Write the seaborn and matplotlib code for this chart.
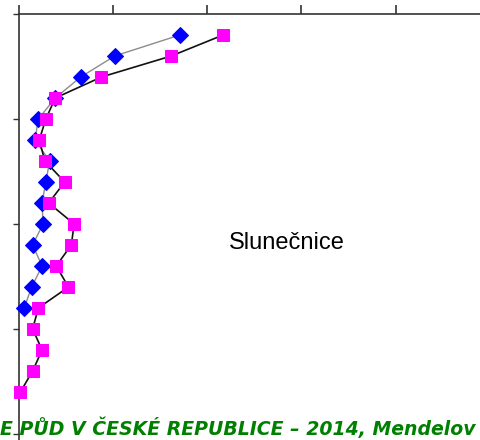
import matplotlib
matplotlib.use("Agg")
import matplotlib.pyplot as plt
import seaborn as sns
import pandas as pd

# Depth steps
depth_blue = list(range(1, 15))
depth_magenta = list(range(1, 19))

# Values
blue_values = [17.1, 10.2, 6.6, 3.9, 2.1, 1.75, 3.3, 2.9, 2.5, 2.6, 1.5, 2.5, 1.4, 0.6]
magenta_values = [21.7, 16.2, 8.8, 3.9, 2.9, 2.2, 2.8, 4.9, 3.2, 5.9, 5.6, 4.0, 5.3, 2.1,
                  1.5, 2.5, 1.5, 0.2]

x_ticks = [0, 10, 20, 30, 40]
y_ticks = [0, 5, 10, 15, 20]

label_text = "Slunečnice"
footer_text = "E PŮD V ČESKÉ REPUBLICE – 2014, Mendelov"

W, H = 481, 440
sns.set_style("white")
fig = plt.figure(figsize=(W / 100, H / 100), dpi=100)
left_px, top_px = 18.5, 14
ax = fig.add_axes([left_px / W, 0, 1 - left_px / W, 1 - top_px / H])

df_b = pd.DataFrame({"x": blue_values, "depth": depth_blue})
df_m = pd.DataFrame({"x": magenta_values, "depth": depth_magenta})

sns.lineplot(data=df_b, x="x", y="depth", sort=False, estimator=None, ax=ax,
             color="#8c8c8c", linewidth=1.0, marker="D", markersize=8.5,
             markerfacecolor="#0000ff", markeredgecolor="#0000ff", zorder=3,
             clip_on=False)
sns.lineplot(data=df_m, x="x", y="depth", sort=False, estimator=None, ax=ax,
             color="#111111", linewidth=1.2, marker="s", markersize=9,
             markerfacecolor="#ff00ff", markeredgecolor="#ff00ff", zorder=4,
             clip_on=False)

x_right = (W - left_px) / 9.43
y_bottom = (H - top_px) / 21.0
ax.set_xlim(0, x_right)
ax.set_ylim(y_bottom, 0)
ax.set_xticks(x_ticks)
ax.set_yticks(y_ticks)
ax.set_xticklabels([])
ax.set_yticklabels([])
ax.set_xlabel("")
ax.set_ylabel("")
ax.xaxis.tick_top()
for s in ["right", "bottom"]:
    ax.spines[s].set_visible(False)
for s in ["top", "left"]:
    ax.spines[s].set_visible(True)
    ax.spines[s].set_color("#333333")
    ax.spines[s].set_linewidth(1.2)
ax.tick_params(axis="x", which="both", top=True, bottom=False, direction="out",
               length=6.5, width=1.2, color="#333333")
ax.tick_params(axis="y", which="both", left=True, direction="out",
               length=4.3, width=1.0, color="#333333")
ax.grid(False)
ax.patch.set_alpha(0)

fig.text(229 / W, 1 - 243 / H, label_text, fontsize=17, family="Liberation Sans",
         color="black", ha="left", va="center")
fig.text(0 / W, 1 - 435 / H, footer_text, fontsize=13.6, family="DejaVu Sans",
         fontweight="bold", fontstyle="italic", color="#008000", ha="left",
         va="baseline")

fig.savefig("out.png", dpi=100)
